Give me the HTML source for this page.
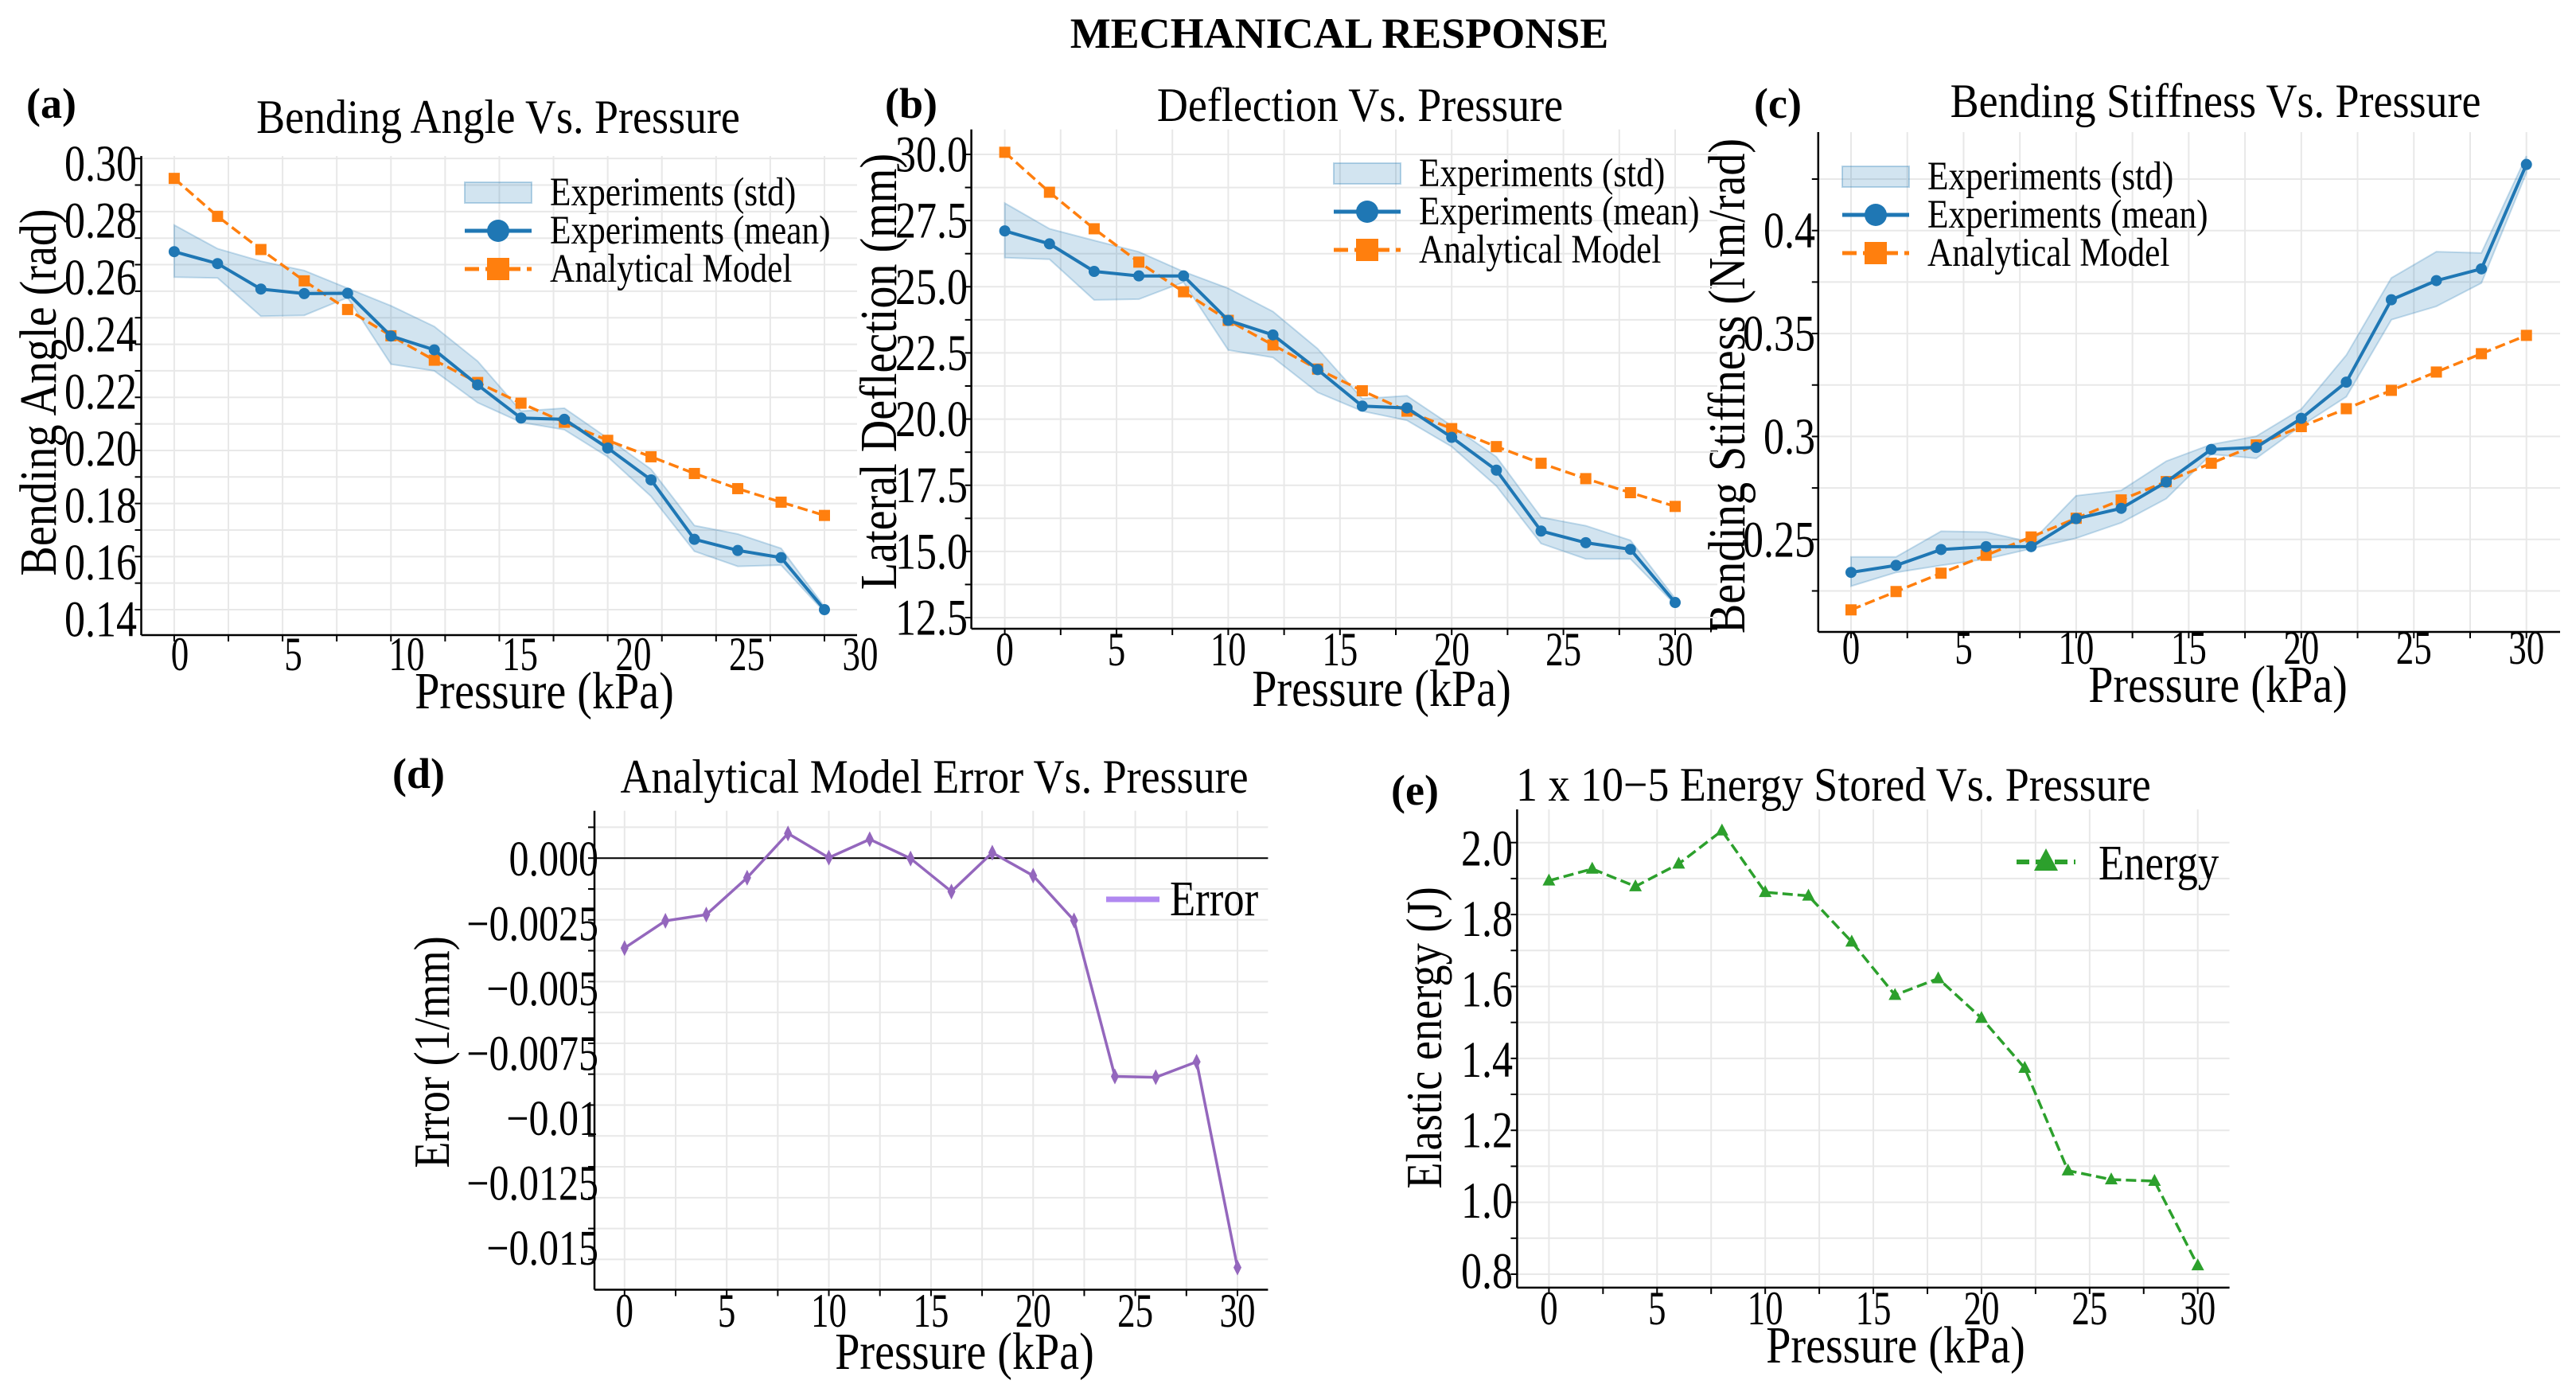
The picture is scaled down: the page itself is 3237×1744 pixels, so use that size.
<!DOCTYPE html>
<html><head><meta charset="utf-8"><title>Mechanical Response</title>
<style>
html,body{margin:0;padding:0;background:#fff;}
svg{display:block;font-family:"Liberation Serif",serif;}
</style></head>
<body>
<svg id="fig" width="3237" height="1744" viewBox="0 0 3237 1744" xmlns="http://www.w3.org/2000/svg">
<rect width="3237" height="1744" fill="#fff"/>
<text x="1683" y="60" font-size="54" font-weight="bold" text-anchor="middle">MECHANICAL RESPONSE</text>

<!-- panel a static -->
<text x="33" y="148" font-size="54" font-weight="bold">(a)</text>
<text transform="translate(626,167) scale(0.9,1)" font-size="60" text-anchor="middle">Bending Angle  Vs. Pressure</text>
<text transform="translate(684,890) scale(0.85,1)" font-size="66" text-anchor="middle">Pressure (kPa)</text>
<text transform="translate(70,493) rotate(-90) scale(0.85,1)" font-size="66" text-anchor="middle">Bending Angle (rad)</text>

<!-- panel b static -->
<text x="1112" y="148" font-size="54" font-weight="bold">(b)</text>
<text transform="translate(1709,152) scale(0.9,1)" font-size="60" text-anchor="middle">Deflection Vs. Pressure</text>
<text transform="translate(1736,887) scale(0.85,1)" font-size="66" text-anchor="middle">Pressure (kPa)</text>
<text transform="translate(1126,467) rotate(-90) scale(0.85,1)" font-size="66" text-anchor="middle">Lateral Deflection (mm)</text>

<!-- panel c static -->
<text x="2204" y="148" font-size="54" font-weight="bold">(c)</text>
<text transform="translate(2784,147) scale(0.9,1)" font-size="60" text-anchor="middle">Bending Stiffness  Vs. Pressure</text>
<text transform="translate(2787,882) scale(0.85,1)" font-size="66" text-anchor="middle">Pressure (kPa)</text>
<text transform="translate(2192,485) rotate(-90) scale(0.85,1)" font-size="66" text-anchor="middle">Bending Stiffness  (Nm/rad)</text>

<!-- panel d static -->
<text x="493" y="990" font-size="54" font-weight="bold">(d)</text>
<text transform="translate(1174,996) scale(0.9,1)" font-size="60" text-anchor="middle">Analytical Model Error Vs. Pressure</text>
<text transform="translate(1212,1720) scale(0.85,1)" font-size="66" text-anchor="middle">Pressure (kPa)</text>
<text transform="translate(564,1322) rotate(-90) scale(0.85,1)" font-size="64" text-anchor="middle">Error (1/mm)</text>

<!-- panel e static -->
<text x="1748" y="1011" font-size="54" font-weight="bold">(e)</text>
<text transform="translate(1905,1006) scale(0.9,1)" font-size="60">1 x 10−5  Energy Stored Vs. Pressure</text>
<text transform="translate(2382,1712) scale(0.85,1)" font-size="66" text-anchor="middle">Pressure (kPa)</text>
<text transform="translate(1811,1304) rotate(-90) scale(0.85,1)" font-size="64" text-anchor="middle">Elastic energy (J)</text>

<g id="marks"></g>
</svg>

<script>
const pressure = [0,2,4,6,8,10,12,14,16,18,20,22,24,26,28,30];
const xTickValues = [0,5,10,15,20,25,30];
const xTickLabels = ['0','5','10','15','20','25','30'];

const angleMean  = [0.2749,0.2704,0.2608,0.2591,0.2592,0.2431,0.2379,0.2247,0.2122,0.2117,0.2009,0.1889,0.1665,0.1623,0.1596,0.1400];
const angleModel = [0.3025,0.2882,0.2757,0.2639,0.2531,0.2432,0.2340,0.2256,0.2178,0.2106,0.2038,0.1976,0.1913,0.1856,0.1805,0.1755];
const angleUpper = [0.2849,0.2760,0.2713,0.2678,0.2611,0.2545,0.2467,0.2336,0.2148,0.2159,0.2046,0.1929,0.1717,0.1685,0.1631,0.1411];
const angleLower = [0.2653,0.2650,0.2506,0.2509,0.2576,0.2325,0.2300,0.2180,0.2106,0.2078,0.1976,0.1827,0.1620,0.1563,0.1568,0.1391];
const angleTicks = [0.14,0.16,0.18,0.20,0.22,0.24,0.26,0.28,0.30];
const angleTickLabels = ['0.14','0.16','0.18','0.20','0.22','0.24','0.26','0.28','0.30'];

const deflMean  = [27.11,26.62,25.58,25.41,25.41,23.73,23.18,21.87,20.49,20.42,19.31,18.07,15.77,15.33,15.08,13.07];
const deflModel = [30.08,28.57,27.19,25.93,24.81,23.73,22.80,21.89,21.07,20.30,19.64,18.96,18.33,17.75,17.22,16.70];
const deflUpper = [28.16,27.19,26.75,26.32,25.57,24.94,24.06,22.66,20.77,20.88,19.75,18.57,16.29,15.97,15.42,13.22];
const deflLower = [26.10,26.04,24.50,24.53,25.17,22.61,22.33,21.01,20.30,19.95,18.96,17.47,15.30,14.72,14.72,12.99];
const deflTicks = [12.5,15,17.5,20,22.5,25,27.5,30];
const deflTickLabels = ['12.5','15.0','17.5','20.0','22.5','25.0','27.5','30.0'];

const stiffMean  = [0.2340,0.2374,0.2451,0.2465,0.2465,0.2601,0.2651,0.2779,0.2937,0.2947,0.3088,0.3264,0.3664,0.3757,0.3814,0.4321];
const stiffModel = [0.2158,0.2247,0.2336,0.2423,0.2512,0.2603,0.2692,0.2781,0.2870,0.2959,0.3048,0.3135,0.3224,0.3313,0.3402,0.3491];
const stiffUpper = [0.2415,0.2415,0.2540,0.2536,0.2486,0.2712,0.2738,0.2880,0.2961,0.3001,0.3133,0.3395,0.3770,0.3897,0.3891,0.4362];
const stiffLower = [0.2273,0.2340,0.2374,0.2405,0.2455,0.2506,0.2581,0.2698,0.2914,0.2894,0.3052,0.3193,0.3567,0.3632,0.3745,0.4281];
const stiffTicks = [0.25,0.30,0.35,0.40];
const stiffTickLabels = ['0.25','0.3','0.35','0.4'];

const errorValues = [-0.003642,-0.002541,-0.002287,-0.000796,0.000999,0.000017,0.000762,-0.000017,-0.001355,0.000220,-0.000711,-0.002524,-0.008841,-0.008875,-0.008249,-0.016582];
const errorTicks = [0,-0.0025,-0.005,-0.0075,-0.01,-0.0125,-0.015];
const errorTickLabels = ['0.000','−0.0025','−0.005','−0.0075','−0.01','−0.0125','−0.015'];

const energyValues = [1.894,1.927,1.878,1.941,2.033,1.862,1.852,1.724,1.576,1.622,1.512,1.373,1.088,1.063,1.059,0.824];
const energyTicks = [0.8,1.0,1.2,1.4,1.6,1.8,2.0];
const energyTickLabels = ['0.8','1.0','1.2','1.4','1.6','1.8','2.0'];

const NS = 'http://www.w3.org/2000/svg';
const root = document.getElementById('marks');
function lin(d0,d1,r0,r1){ return v => r0 + (v-d0)*(r1-r0)/(d1-d0); }
function mk(tag, attrs, parent){
  const e = document.createElementNS(NS, tag);
  for (const k in attrs) e.setAttribute(k, attrs[k]);
  (parent||root).appendChild(e);
  return e;
}
function txt(str, attrs, parent){ const e = mk('text', attrs, parent); e.textContent = str; return e; }

function axes(p){
  const g = mk('g', {});
  
  
  for (let v = 0; v <= 30.001; v += 2.5){
    const x = p.x(v);
    const l = mk('line', {x1:x, x2:x, y1:p.top, y2:p.bottom, stroke:'#e8e8e8', 'stroke-width':2}, g);
    
    
  }
  const lo = Math.min(p.y.inv(p.bottom), p.y.inv(p.top)), hi = Math.max(p.y.inv(p.bottom), p.y.inv(p.top));
  const start = Math.ceil(lo / p.minor - 1e-6) * p.minor;
  for (let v = start; v <= hi + 1e-9; v += p.minor){
    const y = p.y(v);
    const l = mk('line', {x1:p.left, x2:p.right, y1:y, y2:y, stroke:'#e8e8e8', 'stroke-width':2}, g);
    
    
    const t = mk('line', {x1:p.left-8, x2:p.left, y1:y, y2:y, stroke:'#000', 'stroke-width':2}, g);
    
    
  }
  for (let v = 0; v <= 30.001; v += 2.5){
    const x = p.x(v);
    const t = mk('line', {x1:x, x2:x, y1:p.bottom, y2:p.bottom+8, stroke:'#000', 'stroke-width':2}, g);
    
    
  }
  const ya = mk('line', {x1:p.left, x2:p.left, y1:p.top, y2:p.bottom, stroke:'#000', 'stroke-width':2.5}, g);
  
  
  const xa = mk('line', {x1:p.left, x2:p.right, y1:p.bottom, y2:p.bottom, stroke:'#000', 'stroke-width':2.5}, g);
  
  
  xTickValues.forEach((v,i) => {
    const t = txt(xTickLabels[i], {x:0, y:0, transform:`translate(${p.xl(v)},${p.xLabelY}) scale(0.75,1)`, 'font-size':60, 'text-anchor':'middle', 'dominant-baseline':'central'}, g);
    
    
  });
  p.ticks.forEach((v,i) => {
    const t = txt(p.labels[i], {x:0, y:0, transform:`translate(${p.yLabelX},${p.yl(v)}) scale(0.8,1)`, 'font-size':(p.yFont||52)*1.25, 'text-anchor':'end', 'dominant-baseline':'central'}, g);
    
    
  });
}
function withInv(f, d0, d1, r0, r1){ f.inv = lin(r0, r1, d0, d1); return f; }
function scale(d0,d1,r0,r1){ return withInv(lin(d0,d1,r0,r1), d0,d1,r0,r1); }
function pts(p, vals){ return vals.map((v,i) => p.x(pressure[i]).toFixed(1) + ',' + p.y(v).toFixed(1)).join(' '); }

function band(p, up, lowv){
  const top = up.map((v,i) => p.x(pressure[i]).toFixed(1)+','+p.y(v).toFixed(1));
  const bot = lowv.map((v,i) => p.x(pressure[i]).toFixed(1)+','+p.y(v).toFixed(1)).reverse();
  const e = mk('polygon', {points: top.concat(bot).join(' '), fill:'rgba(31,119,180,0.2)', stroke:'rgba(31,119,180,0.25)', 'stroke-width':2});
  
  
}
function meanLine(p, vals){
  const l = mk('polyline', {points: pts(p, vals), fill:'none', stroke:'#1f77b4', 'stroke-width':4});
  
  
  vals.forEach((v,i) => {
    const c = mk('circle', {cx:p.x(pressure[i]), cy:p.y(v), r:7, fill:'#1f77b4'});
    
    
  });
}
function modelLine(p, vals){
  const l = mk('polyline', {points: pts(p, vals), fill:'none', stroke:'#ff7f0e', 'stroke-width':3.5, 'stroke-dasharray':'13,6'});
  
  
  vals.forEach((v,i) => {
    const s = mk('rect', {x:p.x(pressure[i])-7, y:p.y(v)-7, width:14, height:14, fill:'#ff7f0e'});
    
    
  });
}
function legend3(p, lx, ly, gap){
  const g = mk('g', {});
  
  
  const r = mk('rect', {x:lx, y:ly-13, width:84, height:26, fill:'rgba(31,119,180,0.2)', stroke:'rgba(31,119,180,0.3)', 'stroke-width':2}, g);
  
  
  const l1 = mk('line', {x1:lx, x2:lx+84, y1:ly+gap, y2:ly+gap, stroke:'#1f77b4', 'stroke-width':5}, g);
  
  
  const c1 = mk('circle', {cx:lx+42, cy:ly+gap, r:14, fill:'#1f77b4'}, g);
  
  
  const l2 = mk('line', {x1:lx, x2:lx+84, y1:ly+2*gap, y2:ly+2*gap, stroke:'#ff7f0e', 'stroke-width':5, 'stroke-dasharray':'18,8'}, g);
  
  
  const s1 = mk('rect', {x:lx+28, y:ly+2*gap-14, width:28, height:28, fill:'#ff7f0e'}, g);
  
  
  const names = ['Experiments (std)','Experiments (mean)','Analytical Model'];
  names.forEach((n,i) => {
    const t = txt(n, {x:0, y:0, transform:`translate(${lx+107},${ly+i*gap}) scale(0.85,1)`, 'font-size':51, 'dominant-baseline':'central'}, g);
    
    
  });
}

// Panel A
const PA = {id:'panel-a', left:177.5, right:1077, top:196, bottom:798,
  x: scale(0,30,218.9,1036), y: scale(0.14,0.30,766,232.5), minor:0.01,
  xl: lin(0,30,226,1081), yl: lin(0.14,0.30,778,205.5), yLabelX:172, xLabelY:823,
  ticks: angleTicks, labels: angleTickLabels};
axes(PA); band(PA, angleUpper, angleLower); modelLine(PA, angleModel); meanLine(PA, angleMean);
legend3(PA, 584, 242, 48);

// Panel B
const PB = {id:'panel-b', left:1220.6, right:2158, top:162.6, bottom:790,
  x: scale(0,30,1262.6,2105), y: scale(12.5,30,776,194), minor:1.25,
  xl: lin(0,30,1262.6,2105), yl: lin(12.5,30,776,194), yLabelX:1216, xLabelY:817,
  ticks: deflTicks, labels: deflTickLabels};
axes(PB); band(PB, deflUpper, deflLower); modelLine(PB, deflModel); meanLine(PB, deflMean);
legend3(PB, 1676, 218, 48);

// Panel C
const PC = {id:'panel-c', left:2284.8, right:3217, top:166, bottom:794,
  x: scale(0,30,2326,3174.7), y: scale(0.25,0.40,677.8,289.7), minor:0.025,
  xl: lin(0,30,2326,3174.7), yl: lin(0.25,0.40,677.8,289.7), yLabelX:2281, xLabelY:815,
  ticks: stiffTicks, labels: stiffTickLabels};
axes(PC); band(PC, stiffUpper, stiffLower); modelLine(PC, stiffModel); meanLine(PC, stiffMean);
legend3(PC, 2315, 222, 48);

// Panel D
const PD = {id:'panel-d', left:747, right:1593.4, top:1018.8, bottom:1620.5,
  x: scale(0,30,784.8,1555), y: scale(-0.015,0,1543.6,1078.2), minor:0.00125,
  xl: lin(0,30,784.8,1555), yl: lin(-0.015,0,1569,1080.3), yLabelX:752, xLabelY:1648, yFont:50,
  ticks: errorTicks, labels: errorTickLabels};
axes(PD);
const zl = mk('line', {x1:PD.left, x2:PD.right, y1:PD.y(0), y2:PD.y(0), stroke:'#000', 'stroke-width':2});


const el = mk('polyline', {points: pts(PD, errorValues), fill:'none', stroke:'#9467bd', 'stroke-width':3.5});


errorValues.forEach((v,i) => {
  const cx = PD.x(pressure[i]), cy = PD.y(v);
  const d = mk('polygon', {points:`${cx},${cy-10} ${cx+5},${cy} ${cx},${cy+10} ${cx-5},${cy}`, fill:'#9467bd'});
  
  
});
const dl = mk('line', {x1:1390, x2:1457, y1:1130, y2:1130, stroke:'#b088f0', 'stroke-width':7});


const dt = txt('Error', {x:0, y:0, transform:'translate(1470,1130) scale(0.85,1)', 'font-size':62, 'dominant-baseline':'central'});



// Panel E
const PE = {id:'panel-e', left:1906.4, right:2801.6, top:1017, bottom:1617.9,
  x: scale(0,30,1946.4,2761.7), y: scale(0.8,2.0,1601,1058.7), minor:0.1,
  xl: lin(0,30,1946.4,2761.7), yl: lin(0.8,2.0,1597,1066), yLabelX:1901, xLabelY:1645,
  ticks: energyTicks, labels: energyTickLabels};
axes(PE);
const gl = mk('polyline', {points: pts(PE, energyValues), fill:'none', stroke:'#2ca02c', 'stroke-width':3.5, 'stroke-dasharray':'13,6'});


energyValues.forEach((v,i) => {
  const cx = PE.x(pressure[i]), cy = PE.y(v);
  const t = mk('polygon', {points:`${cx},${cy-9} ${cx+8},${cy+6} ${cx-8},${cy+6}`, fill:'#2ca02c'});
  
  
});
const elg = mk('line', {x1:2534, x2:2608, y1:1083, y2:1083, stroke:'#2ca02c', 'stroke-width':6, 'stroke-dasharray':'16,8'});


const elm = mk('polygon', {points:'2571,1066 2586,1094 2556,1094', fill:'#2ca02c'});


const et = txt('Energy', {x:0, y:0, transform:'translate(2637,1085) scale(0.85,1)', 'font-size':62, 'dominant-baseline':'central'});


</script>
</body></html>
